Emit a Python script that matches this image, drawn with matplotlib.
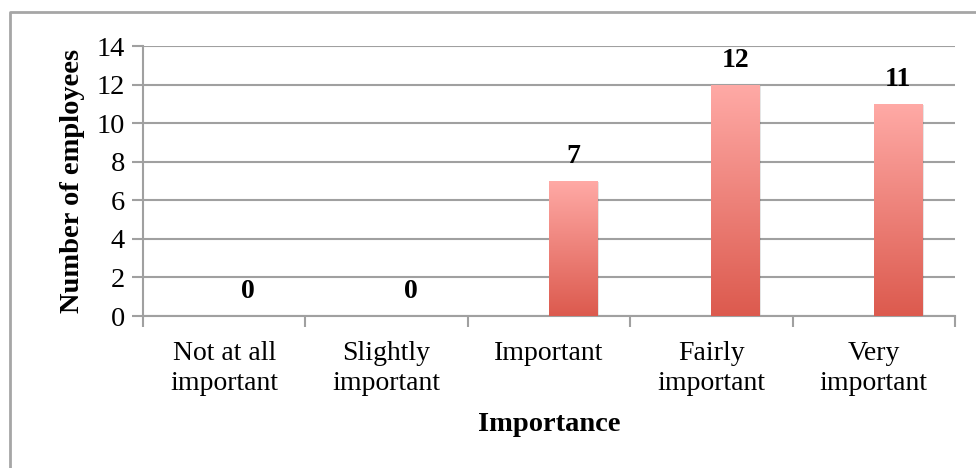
import numpy as np
import matplotlib
matplotlib.use("Agg")
import matplotlib.pyplot as plt
from matplotlib.colors import LinearSegmentedColormap
from matplotlib.lines import Line2D

# Data
categories = ["Not at all\nimportant", "Slightly\nimportant", "Important",
              "Fairly\nimportant", "Very\nimportant"]
counts = [0, 0, 7, 12, 11]
yticks = [0, 2, 4, 6, 8, 10, 12, 14]

plt.rcParams["font.family"] = ["Liberation Serif", "DejaVu Serif"]

W, H = 976, 468
fig = plt.figure(figsize=(W / 100, H / 100), dpi=100)
ax = fig.add_axes([143 / W, 1 - 316 / H, (955 - 143) / W, (316 - 46) / H])

grid_c = "#a0a0a0"
cmap = LinearSegmentedColormap.from_list("bar", ["#dc5a4e", "#ffaaa6"])
grad = np.linspace(0, 1, 256).reshape(-1, 1)

offset = 0.148
width = 0.296
x = np.arange(len(categories))
for xi, v in zip(x, counts):
    if v > 0:
        # soft shadow
        ax.bar(xi + offset + 0.012, v, width=width, bottom=-0.05,
               color="#000000", alpha=0.10, zorder=2, linewidth=0)
        bar = ax.bar(xi + offset, v, width=width, color="none", zorder=3,
                     linewidth=0)[0]
        im = ax.imshow(grad, cmap=cmap, aspect="auto", origin="lower",
                       extent=[xi + offset - width / 2, xi + offset + width / 2, 0, v],
                       zorder=3)
        im.set_clip_path(bar)
    ax.text(xi + offset, v + 0.62, str(v), ha="center", va="bottom",
            fontsize=20, fontweight="bold", zorder=4)

ax.set_xlim(-0.5, len(categories) - 0.5)
ax.set_ylim(0, 14)
ax.set_yticks(yticks)
ax.set_yticklabels([str(t) for t in yticks], fontsize=20.5)
ax.set_xticks(np.arange(-0.5, len(categories), 1))
ax.set_xticklabels([])
ax.set_xticks(x, minor=True)
ax.set_xticklabels(categories, minor=True, fontsize=20, linespacing=1.25)
ax.tick_params(axis="x", which="minor", length=0, pad=18)
ax.tick_params(axis="x", which="major", length=8, width=1.5, color=grid_c)
ax.tick_params(axis="y", length=8, width=1.5, color=grid_c, pad=5)

ax.yaxis.grid(True, color=grid_c, linewidth=1.5, zorder=1)
ax.set_axisbelow(True)
for s in ["top", "right"]:
    ax.spines[s].set_visible(False)
for s in ["left", "bottom"]:
    ax.spines[s].set_color(grid_c)
    ax.spines[s].set_linewidth(1.5)

ax.set_ylabel("Number of employees", fontsize=20.5, fontweight="bold", labelpad=8)
ax.set_xlabel("Importance", fontsize=20.5, fontweight="bold", labelpad=12)

# outer chart border (left and top edges)
fig.add_artist(Line2D([10 / W, 10 / W, 1.0], [0.0, 1 - 12 / H, 1 - 12 / H],
                      transform=fig.transFigure, color="#a6a6a6", linewidth=2))

fig.savefig("out.png", dpi=100)
